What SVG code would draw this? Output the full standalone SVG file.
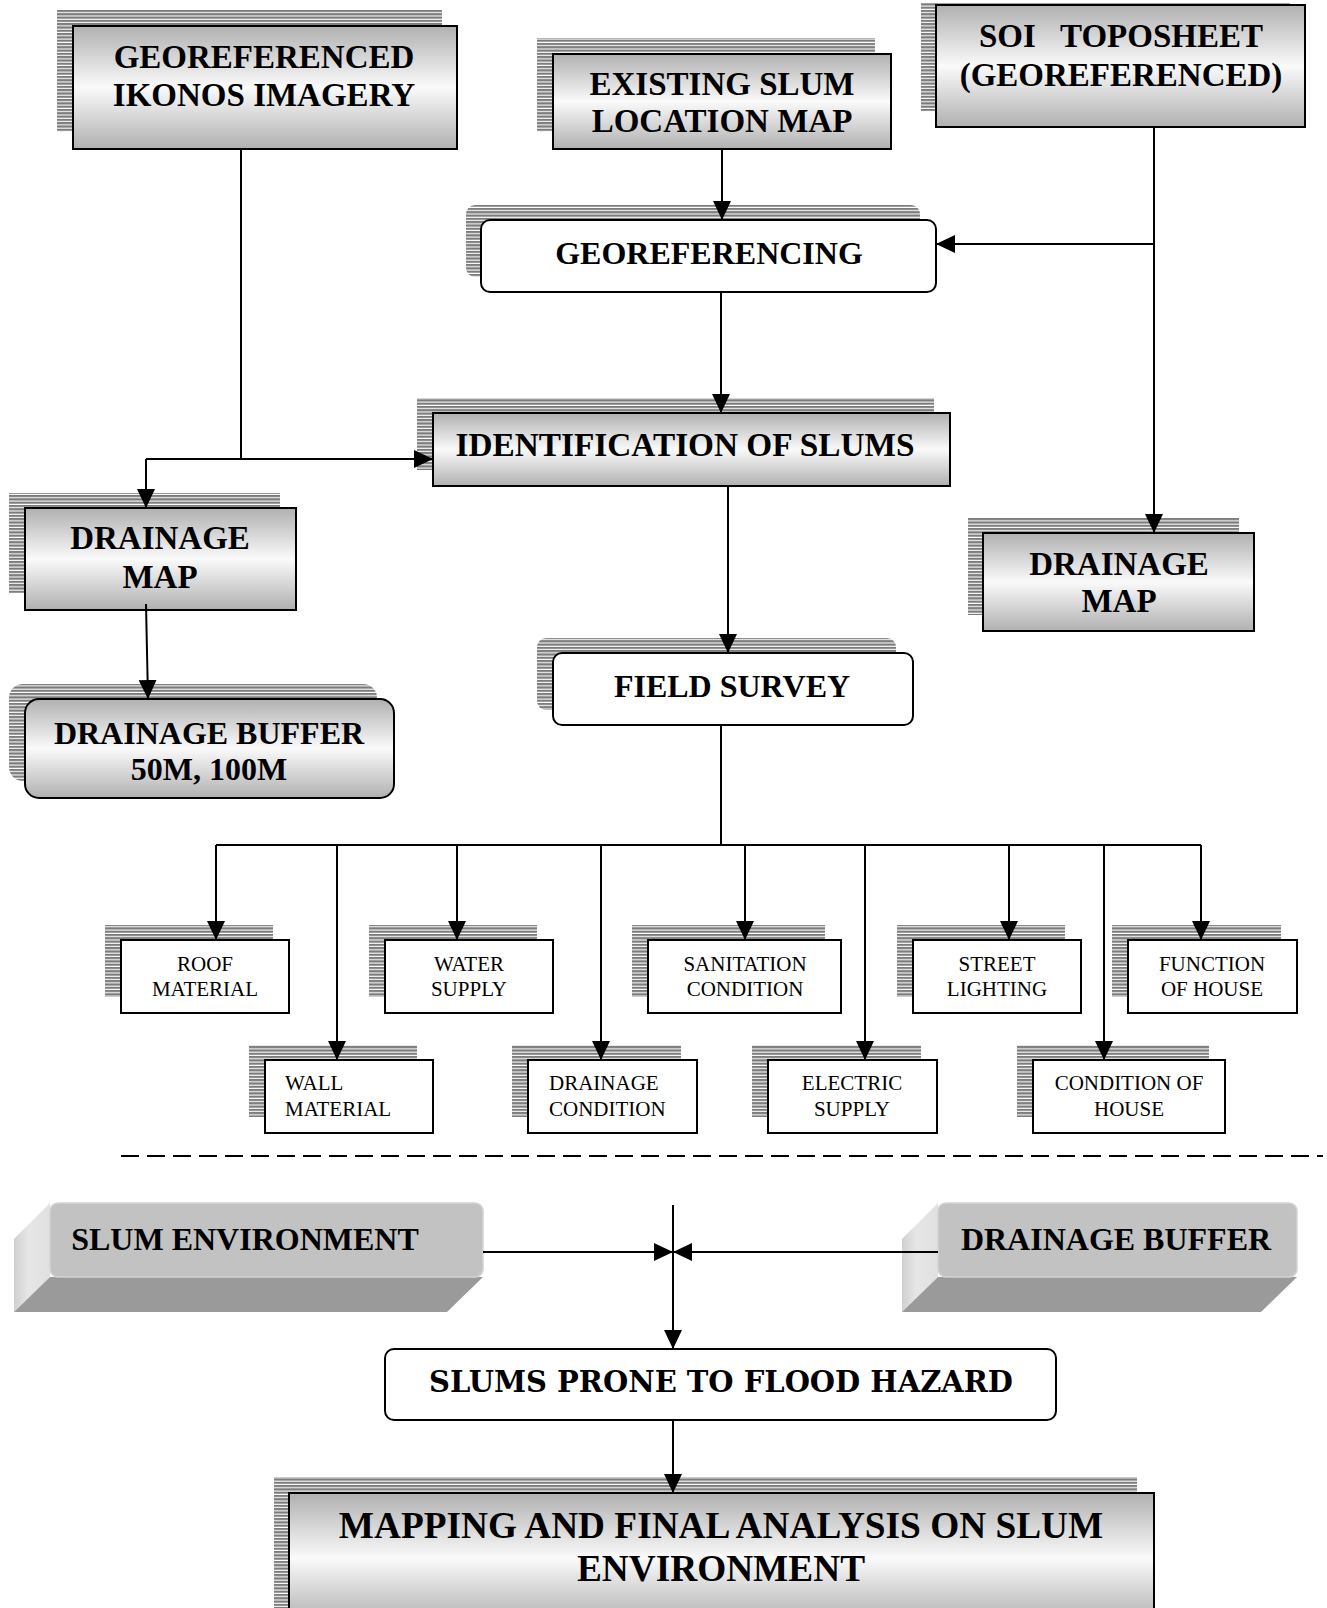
<svg xmlns="http://www.w3.org/2000/svg" width="1327" height="1608" viewBox="0 0 1327 1608">
<style>
.bt{font-family:"Liberation Serif","Times New Roman",serif;font-weight:bold;font-size:33px;text-anchor:middle;fill:#000}
.st{font-family:"Liberation Serif","Times New Roman",serif;font-size:21px;text-anchor:middle;fill:#000}
.sl{font-family:"Liberation Serif","Times New Roman",serif;font-size:21px;fill:#000}
.gb{fill:url(#grad);stroke:#000;stroke-width:2}
.wb{fill:#fff;stroke:#000;stroke-width:2}
.sh{fill:url(#stripes)}
.conn{stroke:#000;stroke-width:2;fill:none}
.front{fill:#c2c2c2;stroke:#d4d4d4;stroke-width:1.5}
.side{fill:url(#sidegrad)}
.bottom{fill:#9a9a9a}
</style>
<defs>
<linearGradient id="grad" x1="0" y1="0" x2="0" y2="1">
<stop offset="0" stop-color="#b0b0b0"/>
<stop offset="0.5" stop-color="#fafafa"/>
<stop offset="1" stop-color="#b0b0b0"/>
</linearGradient>
<linearGradient id="sidegrad" x1="0" y1="0" x2="1" y2="0">
<stop offset="0" stop-color="#d0d0d0"/>
<stop offset="0.4" stop-color="#e6e6e6"/>
<stop offset="1" stop-color="#e0e0e0"/>
</linearGradient>
<pattern id="stripes" width="10" height="3.3" patternUnits="userSpaceOnUse">
<rect width="10" height="3.3" fill="#fff"/>
<rect width="10" height="2.2" fill="#7c7c7c"/>
</pattern>
<marker id="arr" markerUnits="userSpaceOnUse" markerWidth="20" markerHeight="20" refX="19" refY="9" orient="auto">
<path d="M0,0 L19,9 L0,18 z" fill="#000"/>
</marker>
</defs>
<rect width="1327" height="1608" fill="#fff"/>

<g id="node-ikonos">
<rect class="sh" x="57" y="10" width="385" height="122"/>
<rect class="gb" x="73" y="26" width="384" height="123"/>
<text class="bt" x="264" y="68">GEOREFERENCED</text>
<text class="bt" x="264" y="106">IKONOS IMAGERY</text>
</g>

<g id="node-existing">
<rect class="sh" x="537" y="38" width="338" height="94"/>
<rect class="gb" x="553" y="54" width="338" height="95"/>
<text class="bt" x="722" y="95">EXISTING SLUM</text>
<text class="bt" x="722" y="132">LOCATION MAP</text>
</g>

<g id="node-soi">
<rect class="sh" x="921" y="3" width="369" height="108"/>
<rect class="gb" x="936" y="5" width="369" height="122"/>
<text class="bt" x="1121" y="47" style="white-space:pre">SOI   TOPOSHEET</text>
<text class="bt" x="1121" y="86">(GEOREFERENCED)</text>
</g>

<g id="node-georef">
<rect class="sh" x="466" y="205" width="454" height="72" rx="9"/>
<rect class="wb" x="481" y="220" width="455" height="72" rx="9"/>
<text class="bt" x="709" y="264" style="font-size:32px">GEOREFERENCING</text>
</g>

<g id="node-ident">
<rect class="sh" x="417" y="398" width="517" height="72"/>
<rect class="gb" x="433" y="413" width="517" height="73"/>
<text class="bt" x="685" y="456" style="font-size:33.3px">IDENTIFICATION OF SLUMS</text>
</g>

<g id="node-drainmap-left">
<rect class="sh" x="9" y="493" width="271" height="100"/>
<rect class="gb" x="25" y="508" width="271" height="102"/>
<text class="bt" x="160" y="549">DRAINAGE</text>
<text class="bt" x="160" y="588">MAP</text>
</g>

<g id="node-drainbuffer-left">
<rect class="sh" x="9" y="684" width="368" height="97" rx="14"/>
<rect class="gb" x="25" y="699" width="369" height="99" rx="14"/>
<text class="bt" x="209" y="744" style="font-size:32px">DRAINAGE BUFFER</text>
<text class="bt" x="209" y="780" style="font-size:32px">50M, 100M</text>
</g>

<g id="node-drainmap-right">
<rect class="sh" x="968" y="518" width="271" height="97"/>
<rect class="gb" x="983" y="533" width="271" height="98"/>
<text class="bt" x="1119" y="575">DRAINAGE</text>
<text class="bt" x="1119" y="612">MAP</text>
</g>

<g id="node-field">
<rect class="sh" x="537" y="638" width="359" height="72" rx="9"/>
<rect class="wb" x="553" y="653" width="360" height="72" rx="9"/>
<text class="bt" x="732" y="697" style="font-size:32px">FIELD SURVEY</text>
</g>

<g id="node-roof">
<rect class="sh" x="105" y="925" width="168" height="72"/>
<rect class="wb" x="121" y="940" width="168" height="73"/>
<text class="st" x="205" y="971">ROOF</text>
<text class="st" x="205" y="996">MATERIAL</text>
</g>

<g id="node-water">
<rect class="sh" x="369" y="925" width="168" height="72"/>
<rect class="wb" x="385" y="940" width="168" height="73"/>
<text class="st" x="469" y="971">WATER</text>
<text class="st" x="469" y="996">SUPPLY</text>
</g>

<g id="node-sanitation">
<rect class="sh" x="632" y="925" width="193" height="72"/>
<rect class="wb" x="648" y="940" width="193" height="73"/>
<text class="st" x="745" y="971">SANITATION</text>
<text class="st" x="745" y="996">CONDITION</text>
</g>

<g id="node-street">
<rect class="sh" x="897" y="925" width="168" height="72"/>
<rect class="wb" x="913" y="940" width="168" height="73"/>
<text class="st" x="997" y="971">STREET</text>
<text class="st" x="997" y="996">LIGHTING</text>
</g>

<g id="node-function">
<rect class="sh" x="1112" y="925" width="169" height="72"/>
<rect class="wb" x="1128" y="940" width="169" height="73"/>
<text class="st" x="1212" y="971">FUNCTION</text>
<text class="st" x="1212" y="996">OF HOUSE</text>
</g>

<g id="node-wall">
<rect class="sh" x="249" y="1045" width="168" height="72"/>
<rect class="wb" x="265" y="1060" width="168" height="73"/>
<text class="sl" x="285" y="1090">WALL</text>
<text class="sl" x="285" y="1116">MATERIAL</text>
</g>

<g id="node-drainage-cond">
<rect class="sh" x="512" y="1045" width="169" height="72"/>
<rect class="wb" x="528" y="1060" width="169" height="73"/>
<text class="sl" x="549" y="1090">DRAINAGE</text>
<text class="sl" x="549" y="1116">CONDITION</text>
</g>

<g id="node-electric">
<rect class="sh" x="752" y="1045" width="169" height="72"/>
<rect class="wb" x="768" y="1060" width="169" height="73"/>
<text class="st" x="852" y="1090">ELECTRIC</text>
<text class="st" x="852" y="1116">SUPPLY</text>
</g>

<g id="node-condition">
<rect class="sh" x="1017" y="1045" width="192" height="72"/>
<rect class="wb" x="1033" y="1060" width="192" height="73"/>
<text class="st" x="1129" y="1090">CONDITION OF</text>
<text class="st" x="1129" y="1116">HOUSE</text>
</g>

<g id="separator">
<line x1="121" y1="1156" x2="1323" y2="1156" stroke="#000" stroke-width="2" stroke-dasharray="18,8"/>
</g>

<g id="node-slum-env">
<polygon class="side" points="50,1203 14,1239 14,1312 50,1277"/>
<polygon class="bottom" points="50,1277 483,1277 447,1312 14,1312"/>
<rect class="front" x="50" y="1203" width="433" height="74" rx="8"/>
<text class="bt" x="245" y="1250" style="font-size:32px">SLUM ENVIRONMENT</text>
</g>

<g id="node-drainbuffer-right">
<polygon class="side" points="938,1203 902,1239 902,1312 938,1277"/>
<polygon class="bottom" points="938,1277 1297,1277 1261,1312 902,1312"/>
<rect class="front" x="938" y="1203" width="359" height="74" rx="8"/>
<text class="bt" x="1116" y="1250" style="font-size:32px">DRAINAGE BUFFER</text>
</g>

<g id="node-prone">
<rect class="wb" x="385" y="1349" width="671" height="71" rx="9"/>
<text x="721" y="1392" textLength="584" lengthAdjust="spacingAndGlyphs" style="font-family:'DejaVu Serif',serif;font-weight:bold;font-size:29px;text-anchor:middle">SLUMS PRONE TO FLOOD HAZARD</text>
</g>

<g id="node-mapping">
<rect class="sh" x="274" y="1477" width="863" height="140"/>
<rect class="gb" x="289" y="1493" width="865" height="130"/>
<text class="bt" x="721" y="1538" style="font-size:37.3px">MAPPING AND FINAL ANALYSIS ON SLUM</text>
<text class="bt" x="721" y="1581" style="font-size:37.3px">ENVIRONMENT</text>
</g>

<g id="connectors">
<path class="conn" d="M241,149 V459"/>
<path class="conn" d="M146,459 H433" marker-end="url(#arr)"/>
<path class="conn" d="M146,459 V508" marker-end="url(#arr)"/>
<path class="conn" d="M722,149 V220" marker-end="url(#arr)"/>
<path class="conn" d="M1154,127 V533" marker-end="url(#arr)"/>
<path class="conn" d="M1154,244 H936" marker-end="url(#arr)"/>
<path class="conn" d="M721,292 V413" marker-end="url(#arr)"/>
<path class="conn" d="M728,486 V653" marker-end="url(#arr)"/>
<path class="conn" d="M146,604 L148,699" marker-end="url(#arr)"/>
<path class="conn" d="M721,725 V845"/>
<path class="conn" d="M216,845 H1201"/>
<path class="conn" d="M216,845 V940" marker-end="url(#arr)"/>
<path class="conn" d="M337,845 V1060" marker-end="url(#arr)"/>
<path class="conn" d="M457,845 V940" marker-end="url(#arr)"/>
<path class="conn" d="M601,845 V1060" marker-end="url(#arr)"/>
<path class="conn" d="M745,845 V940" marker-end="url(#arr)"/>
<path class="conn" d="M865,845 V1060" marker-end="url(#arr)"/>
<path class="conn" d="M1009,845 V940" marker-end="url(#arr)"/>
<path class="conn" d="M1104,845 V1060" marker-end="url(#arr)"/>
<path class="conn" d="M1201,845 V940" marker-end="url(#arr)"/>
<path class="conn" d="M673,1205 V1349" marker-end="url(#arr)"/>
<path class="conn" d="M483,1252 H673" marker-end="url(#arr)"/>
<path class="conn" d="M938,1252 H673" marker-end="url(#arr)"/>
<path class="conn" d="M673,1420 V1493" marker-end="url(#arr)"/>
</g>
</svg>
